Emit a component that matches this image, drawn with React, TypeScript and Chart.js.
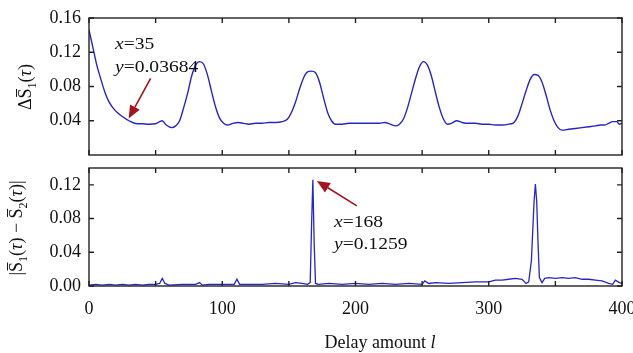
import React, { useEffect, useRef } from 'react';
import { Chart, registerables } from 'chart.js';
Chart.register(...registerables);

// ---- data ----
const topX = [0, 3, 6, 9, 12, 15, 18, 21, 25, 30, 35, 40, 45, 50, 53, 55, 58, 62, 65, 68, 71, 74, 77, 80, 83, 86, 89, 92, 95, 98, 101, 104, 108, 112, 116, 120, 125, 130, 135, 140, 145, 149, 152, 155, 158, 161, 164, 167, 170, 173, 176, 179, 182, 185, 190, 195, 200, 210, 218, 222, 226, 230, 233, 236, 239, 242, 245, 248, 251, 254, 257, 260, 263, 266, 269, 272, 276, 280, 285, 290, 295, 300, 305, 310, 315, 319, 322, 325, 328, 331, 334, 337, 340, 343, 346, 349, 352, 355, 360, 365, 370, 375, 380, 384, 387, 390, 393, 396, 398, 400];
const topY = [0.146, 0.125, 0.104, 0.088, 0.073, 0.062, 0.055, 0.050, 0.045, 0.040, 0.0368, 0.0365, 0.036, 0.0365, 0.039, 0.040, 0.035, 0.032, 0.034, 0.040, 0.055, 0.072, 0.092, 0.105, 0.109, 0.106, 0.093, 0.074, 0.056, 0.043, 0.037, 0.035, 0.037, 0.038, 0.037, 0.036, 0.037, 0.037, 0.038, 0.038, 0.039, 0.042, 0.050, 0.062, 0.077, 0.090, 0.097, 0.098, 0.096, 0.085, 0.067, 0.050, 0.040, 0.036, 0.036, 0.037, 0.037, 0.037, 0.037, 0.038, 0.036, 0.034, 0.036, 0.042, 0.055, 0.072, 0.089, 0.103, 0.109, 0.105, 0.092, 0.073, 0.055, 0.042, 0.036, 0.037, 0.040, 0.038, 0.037, 0.037, 0.036, 0.036, 0.035, 0.035, 0.036, 0.038, 0.046, 0.060, 0.075, 0.088, 0.094, 0.093, 0.085, 0.070, 0.053, 0.040, 0.032, 0.029, 0.030, 0.031, 0.032, 0.033, 0.034, 0.035, 0.035, 0.037, 0.039, 0.039, 0.036, 0.037];

const botX = [0, 5, 10, 15, 20, 25, 30, 35, 40, 45, 50, 53, 55, 57, 60, 70, 80, 83, 85, 90, 100, 109, 111, 113, 120, 130, 140, 150, 155, 160, 164, 166, 167, 168, 169, 170, 172, 180, 190, 200, 210, 220, 230, 240, 250, 252, 255, 260, 270, 280, 290, 300, 305, 310, 315, 320, 325, 328, 330, 332, 334, 335, 336, 337, 338, 340, 342, 345, 350, 355, 360, 365, 370, 375, 380, 385, 390, 393, 395, 398, 400];
const botY = [0.001, 0.002, 0.001, 0.002, 0.001, 0.002, 0.001, 0.002, 0.001, 0.002, 0.002, 0.003, 0.009, 0.003, 0.001, 0.002, 0.002, 0.004, 0.001, 0.002, 0.002, 0.002, 0.008, 0.002, 0.002, 0.002, 0.003, 0.002, 0.004, 0.003, 0.002, 0.004, 0.07, 0.1259, 0.05, 0.003, 0.002, 0.003, 0.002, 0.003, 0.002, 0.003, 0.002, 0.003, 0.002, 0.006, 0.003, 0.004, 0.003, 0.004, 0.005, 0.005, 0.007, 0.007, 0.008, 0.009, 0.008, 0.003, 0.005, 0.03, 0.1, 0.121, 0.1, 0.05, 0.01, 0.004, 0.009, 0.010, 0.009, 0.010, 0.009, 0.010, 0.008, 0.008, 0.007, 0.006, 0.003, 0.002, 0.007, 0.004, 0.003];

const xLabelTicks = [0, 100, 200, 300, 400];
const xMarkTicks = [0, 50, 100, 150, 200, 250, 300, 350, 400];
const topYTicks = [0.04, 0.08, 0.12, 0.16];
const botYTicks = [0, 0.04, 0.08, 0.12];
const annTop = { x: 35, y: 0.03684 };
const annBot = { x: 168, y: 0.1259 };

// ---- layout ----
const CW = 660;
const H = 353;
const SPLIT = 162;
const LEFT = 89;
const RIGHT = 622;
const FONT = '"Liberation Serif", "Times New Roman", serif';
const LINE = '#2626c4';
const RED = '#a3141c';

type Seg = { t: string; it?: boolean; sub?: boolean; bar?: boolean };

function drawRich(ctx: CanvasRenderingContext2D, segs: Seg[], cx: number, cy: number, size: number) {
  ctx.save();
  ctx.translate(cx, cy);
  ctx.rotate(-Math.PI / 2);
  const fontOf = (s: Seg) => `${s.it ? 'italic ' : ''}${s.sub ? Math.round(size * 0.65) : size}px ${FONT}`;
  let total = 0;
  const widths = segs.map((s) => {
    ctx.font = fontOf(s);
    const w = ctx.measureText(s.t).width;
    total += w;
    return w;
  });
  let x = -total / 2;
  const base = size * 0.33;
  ctx.fillStyle = '#111';
  ctx.strokeStyle = '#111';
  ctx.lineWidth = 1;
  ctx.textBaseline = 'alphabetic';
  segs.forEach((s, i) => {
    ctx.font = fontOf(s);
    const y = base + (s.sub ? size * 0.28 : 0);
    ctx.fillText(s.t, x, y);
    if (s.bar) {
      ctx.beginPath();
      ctx.moveTo(x + 1.5, base - size * 0.8);
      ctx.lineTo(x + widths[i] - 0.5, base - size * 0.8);
      ctx.stroke();
    }
    x += widths[i];
  });
  ctx.restore();
}

function drawVarText(ctx: CanvasRenderingContext2D, v: string, rest: string, x: number, y: number) {
  ctx.save();
  ctx.translate(x, y);
  ctx.scale(1.15, 1);
  ctx.fillStyle = '#111';
  ctx.textBaseline = 'alphabetic';
  ctx.font = `italic 17px ${FONT}`;
  ctx.fillText(v, 0, 0);
  const w = ctx.measureText(v).width;
  ctx.font = `17px ${FONT}`;
  ctx.fillText(rest, w, 0);
  ctx.restore();
}

function drawArrow(ctx: CanvasRenderingContext2D, x0: number, y0: number, x1: number, y1: number) {
  const ang = Math.atan2(y1 - y0, x1 - x0);
  const hl = 13, hw = 5.5;
  const bx = x1 - hl * Math.cos(ang), by = y1 - hl * Math.sin(ang);
  ctx.save();
  ctx.strokeStyle = RED;
  ctx.fillStyle = RED;
  ctx.lineWidth = 1.6;
  ctx.beginPath();
  ctx.moveTo(x0, y0);
  ctx.lineTo(bx, by);
  ctx.stroke();
  ctx.beginPath();
  ctx.moveTo(x1, y1);
  ctx.lineTo(bx + hw * Math.sin(ang), by - hw * Math.cos(ang));
  ctx.lineTo(bx - hw * Math.sin(ang), by + hw * Math.cos(ang));
  ctx.closePath();
  ctx.fill();
  ctx.restore();
}

function framePlugin(yTicks: number[], extra: (chart: any) => void) {
  return {
    id: 'frameExtra',
    afterDatasetsDraw(chart: any) {
      const { ctx, chartArea: a, scales } = chart;
      const xs = scales.x, ys = scales.y;
      ctx.save();
      ctx.strokeStyle = '#222';
      ctx.lineWidth = 1.4;
      ctx.strokeRect(a.left, a.top, a.right - a.left, a.bottom - a.top);
      ctx.beginPath();
      for (const v of xMarkTicks) {
        const px = xs.getPixelForValue(v);
        ctx.moveTo(px, a.top);
        ctx.lineTo(px, a.top + 5);
        ctx.moveTo(px, a.bottom);
        ctx.lineTo(px, a.bottom - 5);
      }
      for (const v of yTicks) {
        const py = ys.getPixelForValue(v);
        ctx.moveTo(a.left, py);
        ctx.lineTo(a.left + 5, py);
        ctx.moveTo(a.right, py);
        ctx.lineTo(a.right - 5, py);
      }
      ctx.stroke();
      ctx.restore();
      extra(chart);
    },
  };
}

function makeOptions(yMax: number, yTicks: number[], showX: boolean, padTop: number, xHeight: number) {
  return {
    responsive: false,
    maintainAspectRatio: false,
    animation: false,
    events: [],
    layout: { autoPadding: false, padding: { left: 0, right: CW - RIGHT, top: padTop, bottom: 0 } },
    plugins: { legend: { display: false }, tooltip: { enabled: false } },
    scales: {
      x: {
        type: 'linear',
        min: 0,
        max: 400,
        afterBuildTicks: (s: any) => {
          s.ticks = xLabelTicks.map((v) => ({ value: v }));
        },
        afterFit: (s: any) => {
          s.height = xHeight;
          s.paddingLeft = 0;
          s.paddingRight = 0;
        },
        ticks: {
          display: showX,
          color: '#111',
          font: { family: FONT, size: 18 },
          padding: 12,
          maxRotation: 0,
          autoSkip: false,
        },
        grid: { display: false, drawTicks: false },
        border: { display: false },
      },
      y: {
        type: 'linear',
        min: 0,
        max: yMax,
        afterBuildTicks: (s: any) => {
          s.ticks = yTicks.map((v) => ({ value: v }));
        },
        afterFit: (s: any) => {
          s.width = LEFT;
          s.paddingTop = 0;
          s.paddingBottom = 0;
        },
        ticks: {
          color: '#111',
          font: { family: FONT, size: 18 },
          padding: 8,
          callback: (v: any) => Number(v).toFixed(2),
        },
        grid: { display: false, drawTicks: false },
        border: { display: false },
      },
    },
  };
}

export default function App() {
  const r1 = useRef<HTMLCanvasElement>(null);
  const r2 = useRef<HTMLCanvasElement>(null);

  useEffect(() => {
    document.body.style.margin = '0';
    const c1 = new Chart(r1.current as HTMLCanvasElement, {
      type: 'line',
      data: {
        datasets: [
          {
            data: topX.map((x, i) => ({ x, y: topY[i] })),
            borderColor: LINE,
            borderWidth: 1.4,
            pointRadius: 0,
            cubicInterpolationMode: 'monotone',
            fill: false,
          },
        ],
      },
      options: makeOptions(0.16, topYTicks, false, 18, SPLIT - 155) as any,
      plugins: [
        framePlugin(topYTicks, (chart: any) => {
          const { ctx, scales } = chart;
          const px = scales.x.getPixelForValue(annTop.x);
          const py = scales.y.getPixelForValue(annTop.y);
          drawArrow(ctx, px + 15, py - 45, px - 7, py - 5);
          drawVarText(ctx, 'x', '=35', 115, 49);
          drawVarText(ctx, 'y', '=0.03684', 115, 72);
          drawRich(
            ctx,
            [{ t: 'Δ' }, { t: 'S', bar: true }, { t: '1', sub: true }, { t: '(' }, { t: 'τ', it: true }, { t: ')' }],
            25,
            87,
            18
          );
        }),
      ],
    });

    const c2 = new Chart(r2.current as HTMLCanvasElement, {
      type: 'line',
      data: {
        datasets: [
          {
            data: botX.map((x, i) => ({ x, y: botY[i] })),
            borderColor: LINE,
            borderWidth: 1.3,
            pointRadius: 0,
            tension: 0,
            fill: false,
          },
        ],
      },
      options: makeOptions(0.14, botYTicks, true, 168 - SPLIT, H - 286) as any,
      plugins: [
        framePlugin(botYTicks, (chart: any) => {
          const { ctx, scales } = chart;
          const px = scales.x.getPixelForValue(annBot.x);
          const py = scales.y.getPixelForValue(annBot.y);
          drawArrow(ctx, px + 44, py + 26, px + 4, py + 1);
          drawVarText(ctx, 'x', '=168', 334, 227 - SPLIT);
          drawVarText(ctx, 'y', '=0.1259', 334, 249 - SPLIT);
          drawRich(
            ctx,
            [
              { t: '|' },
              { t: 'S', bar: true },
              { t: '1', sub: true },
              { t: '(' },
              { t: 'τ', it: true },
              { t: ')' },
              { t: ' − ' },
              { t: 'S', bar: true },
              { t: '2', sub: true },
              { t: '(' },
              { t: 'τ', it: true },
              { t: ')' },
              { t: '|' },
            ],
            16,
            228 - SPLIT,
            18
          );
          // x-axis title
          ctx.save();
          ctx.fillStyle = '#111';
          ctx.textBaseline = 'alphabetic';
          const main = 'Delay amount ';
          ctx.font = `18px ${FONT}`;
          const w1 = ctx.measureText(main).width;
          ctx.font = `italic 18px ${FONT}`;
          const w2 = ctx.measureText('l').width;
          const sx = 380 - (w1 + w2) / 2;
          ctx.font = `18px ${FONT}`;
          ctx.fillText(main, sx, 348 - SPLIT);
          ctx.font = `italic 18px ${FONT}`;
          ctx.fillText('l', sx + w1, 348 - SPLIT);
          ctx.restore();
        }),
      ],
    });

    return () => {
      c1.destroy();
      c2.destroy();
    };
  }, []);

  return (
    <div style={{ position: 'relative', width: 633, height: H, overflow: 'hidden', background: '#fff' }}>
      <canvas ref={r1} width={CW} height={SPLIT} style={{ position: 'absolute', left: 0, top: 0, width: CW, height: SPLIT }} />
      <canvas
        ref={r2}
        width={CW}
        height={H - SPLIT}
        style={{ position: 'absolute', left: 0, top: SPLIT, width: CW, height: H - SPLIT }}
      />
    </div>
  );
}
